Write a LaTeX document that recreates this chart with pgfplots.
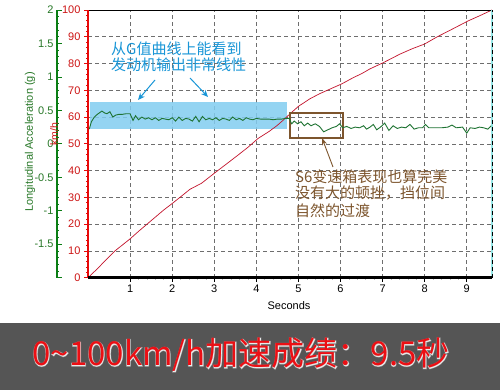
\documentclass[border=0pt]{standalone}
\usepackage{pgfplots}
\pgfplotsset{compat=1.18}
\usepackage{fontspec}
\setmainfont{Liberation Sans}
\newfontfamily\cjk{Noto Sans CJK SC}
\newfontfamily\cjkglowa[FakeBold=5]{Noto Sans CJK SC}
\newfontfamily\cjkglowb[FakeBold=2.5]{Noto Sans CJK SC}
\usetikzlibrary{arrows.meta}
\definecolor{gaxis}{RGB}{10,125,20}
\definecolor{glabel}{RGB}{40,120,40}
\definecolor{gline}{RGB}{30,115,50}
\definecolor{raxis}{RGB}{230,10,10}
\definecolor{rlabel}{RGB}{205,20,20}
\definecolor{rline}{RGB}{195,20,45}
\definecolor{hiblue}{RGB}{130,205,240}
\definecolor{txtblue}{RGB}{25,150,215}
\definecolor{brn}{RGB}{125,85,45}
\definecolor{banner}{RGB}{85,85,85}
\definecolor{bannerred}{RGB}{235,15,20}
\definecolor{gridgray}{RGB}{110,110,110}
\definecolor{edgecyan}{RGB}{150,230,230}
\begin{document}
\begin{tikzpicture}[x=1pt,y=1pt]
\path[use as bounding box] (0,0) rectangle (500,390);
\fill[white] (0,0) rectangle (500,390);
\fill[banner] (0,0) rectangle (500,67);

% main km/h axis
\begin{axis}[
  at={(88pt,112.3pt)}, anchor=south west,
  scale only axis, width=404pt, height=267.7pt,
  xmin=0, xmax=9.6, ymin=0, ymax=100,
  axis line style={draw=none},
  xtick={1,...,9}, ytick={0,10,...,100},
  minor x tick num=4, minor y tick num=4,
  xtick pos=left, ytick pos=left,
  tick align=outside, major tick length=4pt, minor tick length=2pt,
  major x tick style={black, line width=0.6pt},
  minor x tick style={gray!50, line width=0.6pt},
  major y tick style={raxis, line width=0.8pt},
  minor y tick style={raxis, line width=0.6pt},
  grid=major,
  major grid style={gridgray, dash pattern=on 4pt off 3pt, line width=0.6pt},
  yticklabel style={rlabel, font=\fontsize{11}{11}\selectfont},
  xticklabel style={black, font=\fontsize{11}{11}\selectfont},
  /pgf/number format/assume math mode=true,
  clip mode=individual,
]
\fill[hiblue, fill opacity=0.85] (axis cs:0.05,55.7) rectangle (axis cs:4.73,65.6);
\addplot[rline, line width=0.7pt] coordinates {
(0,0) (0.2,3) (0.4,6.2) (0.64,10) (0.8,12) (1.0,14.5) (1.2,17.3) (1.5,21.3)
(1.8,25.3) (2.0,27.7) (2.2,30.2) (2.42,33) (2.7,35.3) (3.0,39) (3.3,42.6)
(3.54,45.5) (3.8,48.7) (4.04,52) (4.3,54.6) (4.49,56.8) (4.65,59) (4.8,61.2)
(5.0,64) (5.27,66.8) (5.5,68.7) (5.8,70.8) (6.03,72.4) (6.3,74.7) (6.5,76.2)
(6.7,78) (7.0,80.2) (7.2,81.8) (7.41,83.5) (7.7,85.5) (8.0,87.3) (8.3,90.0)
(8.6,92.4) (9.03,95.9) (9.3,97.8) (9.6,100)
};
\draw[brn, line width=1.6pt] (axis cs:4.80,52.2) rectangle (axis cs:6.06,61.5);
\draw[black, line width=0.6pt] (rel axis cs:0,1) -- (rel axis cs:1,1);
\draw[edgecyan, line width=2pt] (rel axis cs:1,0) -- (rel axis cs:1,1);
\draw[black, line width=0.8pt, dash pattern=on 4pt off 3pt] (rel axis cs:1,0) -- (rel axis cs:1,1);
\draw[raxis, line width=2.4pt] (rel axis cs:0,0) -- (rel axis cs:0,1);
\draw[black, line width=2.5pt] (rel axis cs:0,0) -- (rel axis cs:1,0);
\end{axis}

% green acceleration axis
\begin{axis}[
  at={(57pt,112.3pt)}, anchor=south west,
  scale only axis, width=435pt, height=267.7pt,
  xmin=-0.7366, xmax=9.6, ymin=-2, ymax=2,
  axis x line=none, axis y line*=left,
  y axis line style={gaxis, line width=2.5pt, -},
  ytick={-2,-1.5,-1,-0.5,0,0.5,1,1.5,2},
  yticklabels={,-1.5,-1,-0.5,0,0.5,1,1.5,2},
  minor y tick num=4,
  tick align=inside, major tick length=5pt, minor tick length=2pt,
  tick style={gaxis, line width=0.8pt},
  yticklabel style={glabel, font=\fontsize{11}{11}\selectfont},
]
\addplot[gline, line width=0.9pt] coordinates {
(0.03,0.22) (0.08,0.33) (0.15,0.40) (0.22,0.44) (0.33,0.49) (0.40,0.46) (0.45,0.45)
(0.52,0.48) (0.59,0.40) (0.66,0.43) (0.73,0.44) (0.81,0.44) (0.90,0.45) (1.00,0.45)
(1.07,0.35) (1.13,0.42) (1.20,0.36) (1.28,0.40) (1.36,0.37) (1.44,0.39) (1.52,0.36)
(1.60,0.39) (1.68,0.35) (1.76,0.38) (1.84,0.37) (1.92,0.36) (2.00,0.39) (2.08,0.34)
(2.16,0.40) (2.24,0.35) (2.32,0.38) (2.40,0.37) (2.48,0.34) (2.56,0.41) (2.64,0.33)
(2.72,0.41) (2.80,0.36) (2.88,0.38) (2.96,0.36) (3.04,0.39) (3.12,0.35) (3.20,0.38)
(3.28,0.37) (3.36,0.35) (3.44,0.40) (3.52,0.36) (3.60,0.38) (3.68,0.35) (3.76,0.39)
(3.84,0.37) (3.92,0.36) (4.00,0.38) (4.10,0.37) (4.20,0.37) (4.30,0.37) (4.40,0.36)
(4.50,0.37) (4.60,0.37) (4.70,0.38) (4.78,0.38) (4.84,0.30) (4.90,0.34) (4.98,0.30)
(5.06,0.33) (5.14,0.27) (5.22,0.31) (5.30,0.27) (5.40,0.30) (5.50,0.26) (5.60,0.18)
(5.70,0.21) (5.80,0.24) (5.90,0.26) (5.98,0.30) (6.05,0.24) (6.15,0.26) (6.25,0.23)
(6.35,0.25) (6.45,0.24) (6.55,0.27) (6.62,0.22) (6.70,0.25) (6.78,0.29) (6.86,0.21)
(6.95,0.25) (7.05,0.31) (7.15,0.20) (7.25,0.27) (7.35,0.23) (7.45,0.25) (7.55,0.24)
(7.65,0.29) (7.75,0.22) (7.85,0.24) (7.95,0.24) (8.02,0.29) (8.10,0.24) (8.25,0.24)
(8.40,0.24) (8.55,0.25) (8.65,0.28) (8.75,0.24) (8.90,0.25) (9.00,0.16) (9.08,0.24)
(9.20,0.23) (9.30,0.25) (9.40,0.24) (9.50,0.22) (9.58,0.27)
};
\end{axis}

% axis titles
\node[rotate=90, text=glabel, font=\fontsize{11}{11}\selectfont] at (30,248) {Longitudinal Acceleration (g)};
\node[rotate=90, text=rlabel, font=\fontsize{10.5}{10.5}\selectfont] at (54,256) {km/h};
\node[font=\fontsize{11}{11}\selectfont] at (289,84) {Seconds};

% blue annotation
\node[anchor=west, inner sep=0, text=txtblue, font=\cjk\fontsize{15}{15}\selectfont] at (111,341.5) {从G值曲线上能看到};
\node[anchor=west, inner sep=0, text=txtblue, font=\cjk\fontsize{15}{15}\selectfont] at (111,325.5) {发动机输出非常线性};
\draw[txtblue, line width=1pt, -{Stealth[length=7pt,width=6pt]}] (155,310) -- (138,290);
\draw[txtblue, line width=1pt, -{Stealth[length=7pt,width=6pt]}] (190,312) -- (208,293);

% brown annotation
\draw[brn, line width=0.9pt, -{Stealth[length=7pt,width=5pt]}] (333,223) -- (322,252);
\node[anchor=west, inner sep=0, text=brn, font=\cjk\fontsize{15}{15}\selectfont] at (295,213.5) {S6变速箱表现也算完美};
\node[anchor=west, inner sep=0, text=brn, font=\cjk\fontsize{15}{15}\selectfont] at (295,197) {没有大的顿挫，挡位间};
\node[anchor=west, inner sep=0, text=brn, font=\cjk\fontsize{15}{15}\selectfont] at (295,179) {自然的过渡};

% banner text with glow
\node[text=white, opacity=0.3, font=\cjkglowa\fontsize{33}{33}\selectfont] at (241,35) {0\textasciitilde100km/h加速成绩：9.5秒};
\node[text=white, opacity=0.6, font=\cjkglowb\fontsize{33}{33}\selectfont] at (241,35) {0\textasciitilde100km/h加速成绩：9.5秒};
\node[text=bannerred, font=\cjk\fontsize{33}{33}\selectfont] at (241,35) {0\textasciitilde100km/h加速成绩：9.5秒};
\end{tikzpicture}
\end{document}
